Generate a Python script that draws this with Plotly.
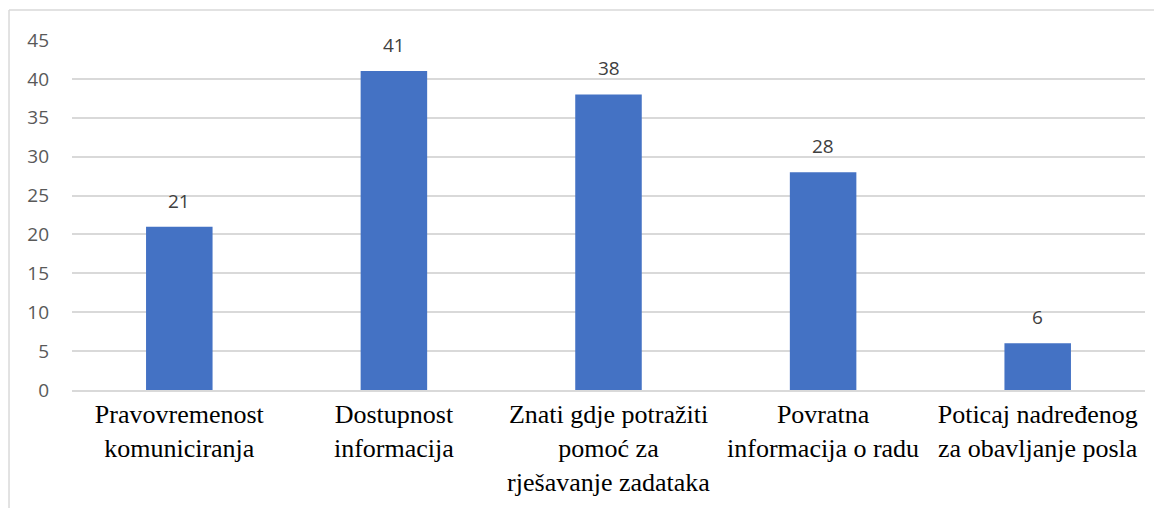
import plotly.graph_objects as go

categories = [
    "Pravovremenost<br>komuniciranja",
    "Dostupnost<br>informacija",
    "Znati gdje potražiti<br>pomoć za<br>rješavanje zadataka",
    "Povratna<br>informacija o radu",
    "Poticaj nadređenog<br>za obavljanje posla",
]
values = [21, 41, 38, 28, 6]
y_ticks = [0, 5, 10, 15, 20, 25, 30, 35, 40, 45]

sans = "Open Sans, Liberation Sans, sans-serif"

fig = go.Figure(go.Bar(
    x=categories,
    y=values,
    marker=dict(color="#4472C4", line=dict(width=0)),
    width=0.31,
))

# value labels above the bars
for c, v in zip(categories, values):
    fig.add_annotation(
        x=c, y=v, text=str(v), showarrow=False,
        yanchor="bottom", yshift=11,
        font=dict(family=sans, size=19, color="#404040"),
    )

# page body has an 8px margin, so the figure is a bit smaller than the window
fig.update_layout(
    width=1154, height=500,
    margin=dict(l=64, r=17, t=32, b=118),
    paper_bgcolor="white", plot_bgcolor="white",
    showlegend=False,
    xaxis=dict(
        tickfont=dict(family="Liberation Serif", size=26, color="#000000"),
        showline=True, linecolor="#d9d9d9", linewidth=1.5,
        ticks="", showgrid=False,
    ),
    yaxis=dict(
        range=[0, 45], tickvals=y_ticks,
        tickfont=dict(family=sans, size=19, color="#595959"),
        showgrid=True, gridcolor="#d9d9d9", gridwidth=1.5,
        zeroline=False, showline=False, ticks="", ticklabelstandoff=22,
    ),
    shapes=[
        # outer chart frame (only top and left edges are in view)
        dict(type="line", xref="paper", yref="paper", x0=-0.0587, x1=1.02, y0=1.0857, y1=1.0857,
             line=dict(color="#d9d9d9", width=1.5)),
        dict(type="line", xref="paper", yref="paper", x0=-0.0587, x1=-0.0587, y0=-0.4, y1=1.0857,
             line=dict(color="#d9d9d9", width=1.5)),
    ],
)

fig.write_html("out.html")
